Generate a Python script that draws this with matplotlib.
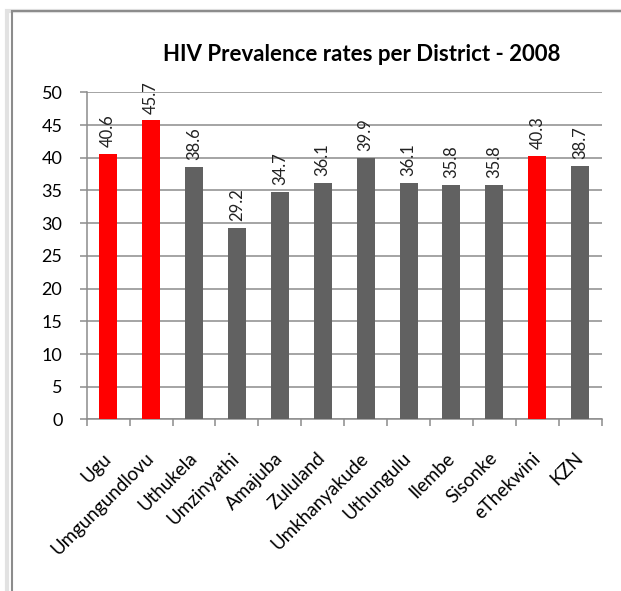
import numpy as np
import matplotlib
matplotlib.use("Agg")
import matplotlib.pyplot as plt
from matplotlib.patches import Rectangle

districts = ["Ugu", "Umgungundlovu", "Uthukela", "Umzinyathi", "Amajuba", "Zululand",
             "Umkhanyakude", "Uthungulu", "Ilembe", "Sisonke", "eThekwini", "KZN"]
rates = [40.6, 45.7, 38.6, 29.2, 34.7, 36.1, 39.9, 36.1, 35.8, 35.8, 40.3, 38.7]
highlight = ["Ugu", "Umgungundlovu", "eThekwini"]

plt.rcParams["font.family"] = ["Lato", "DejaVu Sans"]

fig = plt.figure(figsize=(6.21, 5.91), dpi=100)
ax = fig.add_axes([0.1396, 0.2902, 0.8293, 0.5536])

# chart frame with a soft shadow on the left
fig.patches.append(Rectangle((0.012, -0.05), 1.1, 1.032, transform=fig.transFigure,
                             fill=False, ec="#e2e2e2", lw=3, zorder=0))
fig.patches.append(Rectangle((0.0188, -0.05), 1.1, 1.0319, transform=fig.transFigure,
                             fill=False, ec="#8c8c8c", lw=1.5, zorder=1))

x = np.arange(len(districts))
colors = ["#ff0000" if d in highlight else "#616161" for d in districts]
ax.bar(x, rates, width=0.42, color=colors, zorder=3)

for xi, v in zip(x, rates):
    ax.annotate(f"{v:.1f}", (xi, v), xytext=(0, 5), textcoords="offset points",
                rotation=90, ha="center", va="bottom", fontsize=12, color="#222222")

ax.set_xlim(-0.5, len(districts) - 0.5)
ax.set_ylim(0, 50)
ax.set_yticks(range(0, 51, 5))
ax.set_xticks(x)
ax.set_xticklabels(districts, rotation=45, ha="right", va="center",
                   rotation_mode="anchor", fontsize=13.5)
ax.tick_params(axis="x", length=0, pad=26)
ax.tick_params(axis="y", labelsize=13, length=5, width=1.1, color="#8c8c8c", pad=12.5)

ax.set_xticks(np.arange(-0.5, len(districts), 1), minor=True)
ax.tick_params(axis="x", which="minor", length=5, width=1.1, color="#8c8c8c")
ax.grid(axis="y", which="major", color="#8c8c8c", lw=1.1, zorder=0)

for s in ["top", "right"]:
    ax.spines[s].set_visible(False)
for s in ["left", "bottom"]:
    ax.spines[s].set_color("#8c8c8c")
    ax.spines[s].set_linewidth(1.1)

fig.text(0.582, 0.9086, "HIV Prevalence rates per District - 2008", ha="center", va="center",
         fontsize=16, fontweight="bold")

fig.savefig("out.png", dpi=100, facecolor="white")
